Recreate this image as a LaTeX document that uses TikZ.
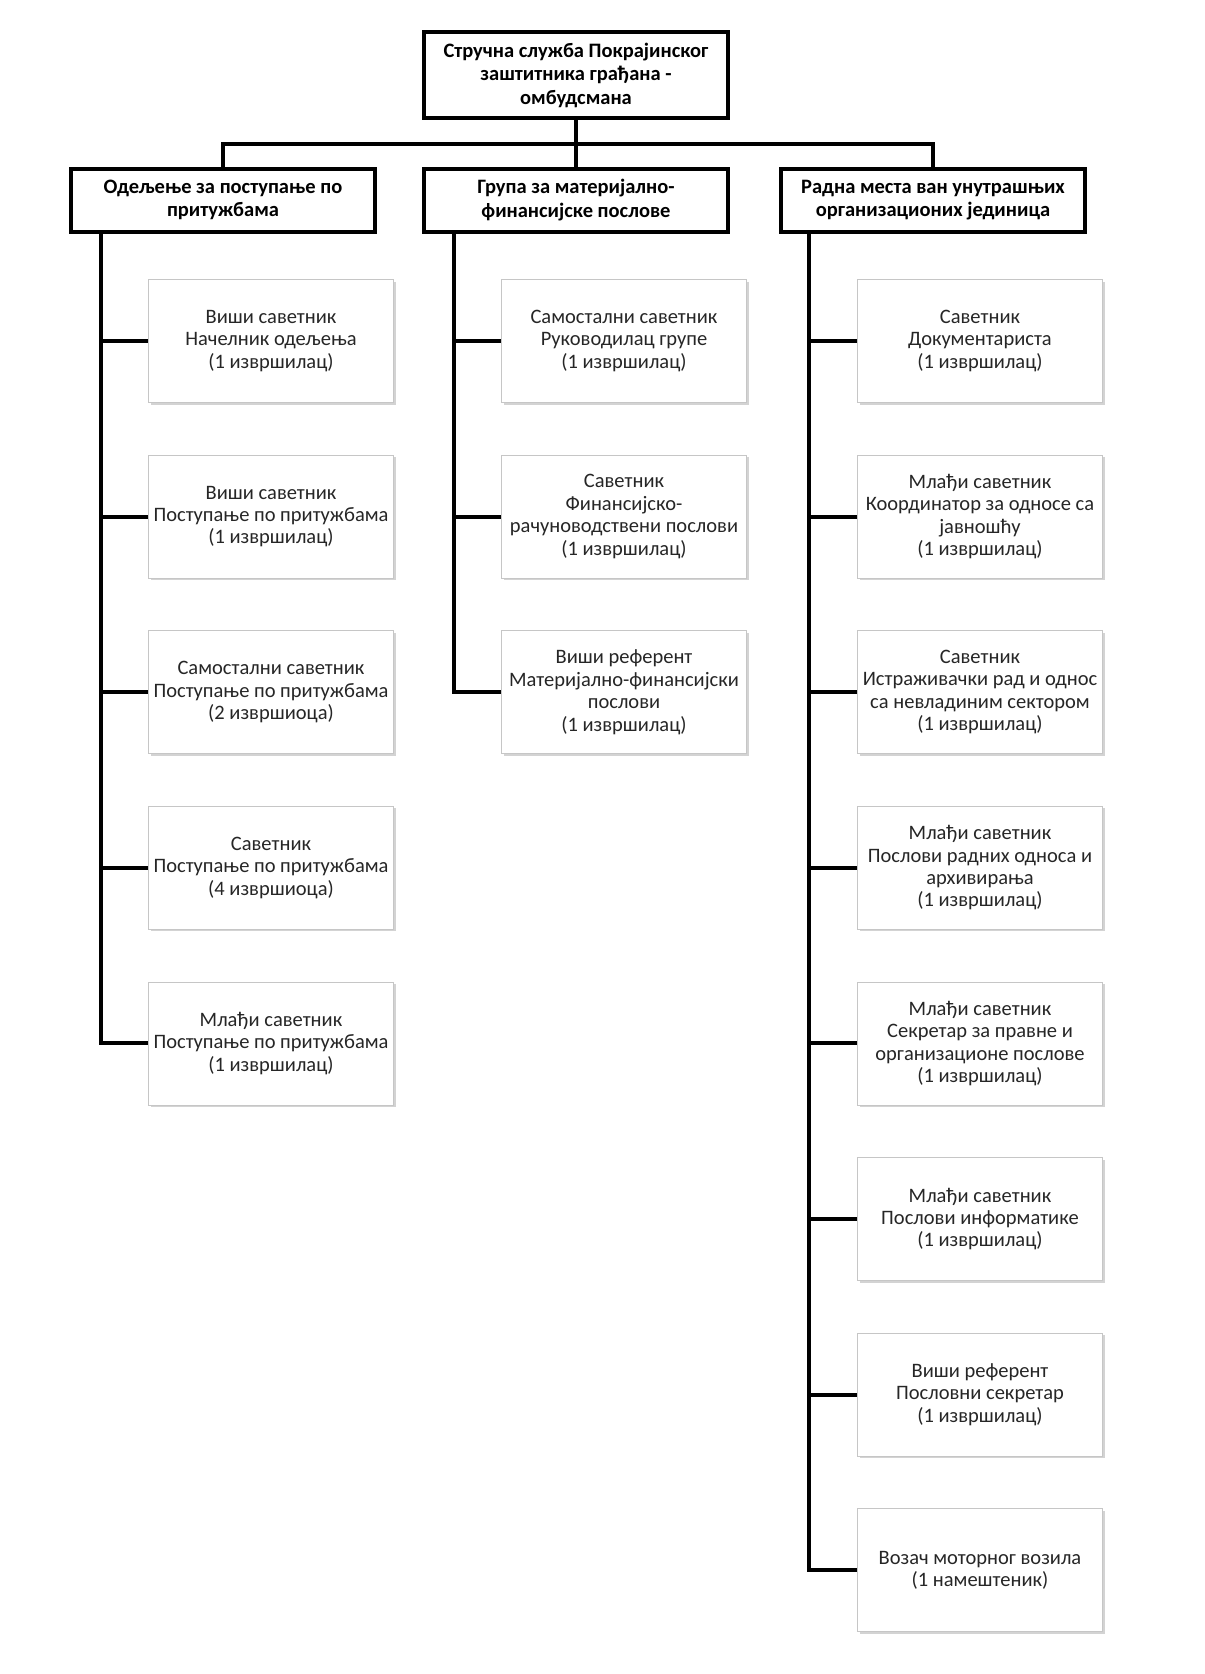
\documentclass[tikz,border=0pt]{standalone}
\usepackage{fontspec}
\setmainfont{Carlito}
\usepackage{tikz}
\usetikzlibrary{positioning, shadows}

\begin{document}
\begin{tikzpicture}[
    x=1pt, y=-1pt,
    node distance=52pt,
    head/.style={rectangle, draw, line width=4pt, fill=white, align=center, minimum width=304pt, font=\fontsize{20.5}{23.5}\selectfont\bfseries},
    unit/.style={head, minimum height=63pt},
    post/.style={rectangle, draw=gray!45, line width=0.6pt, fill=white, align=center, minimum width=245pt, minimum height=123pt, text=black!85, font=\fontsize{20.5}{22.4}\selectfont, drop shadow={shadow xshift=2pt, shadow yshift=-2pt, opacity=0.35, fill=gray}},
    conn/.style={line width=4pt}
  ]
    \useasboundingbox (0,0) rectangle (1205,1674);

    \node[head, minimum height=86pt] (ombud) at (576,75) {Стручна служба Покрајинског\\заштитника грађана -\\омбудсмана};

    \node[unit] (odel) at (223,200) {Одељење за поступање по\\притужбама};
    \node[unit] (grupa) at (576,200) {Група за материјално-\\финансијске послове};
    \node[unit] (radna) at (933,200) {Радна места ван унутрашњих\\организационих јединица};

    \coordinate (bar) at (576,144);
    \draw[conn] (ombud) -- (grupa);
    \draw[conn] (odel.north) |- (bar) -| (radna.north);

    % Odeljenje
    \node[post] (od1) at (271,341) {Виши саветник\\Начелник одељења\\(1 извршилац)};
    \node[post, below=of od1] (od2) {Виши саветник\\Поступање по притужбама\\(1 извршилац)};
    \node[post, below=of od2] (od3) {Самостални саветник\\Поступање по притужбама\\(2 извршиоца)};
    \node[post, below=of od3] (od4) {Саветник\\Поступање по притужбама\\(4 извршиоца)};
    \node[post, below=of od4] (od5) {Млађи саветник\\Поступање по притужбама\\(1 извршилац)};

    % Grupa
    \node[post] (gr1) at (624,341) {Самостални саветник\\Руководилац групе\\(1 извршилац)};
    \node[post, below=of gr1] (gr2) {Саветник\\Финансијско-\\рачуноводствени послови\\(1 извршилац)};
    \node[post, below=of gr2] (gr3) {Виши референт\\Материјално-финансијски\\послови\\(1 извршилац)};

    % Radna mesta
    \node[post] (rm1) at (980,341) {Саветник\\Документариста\\(1 извршилац)};
    \node[post, below=of rm1] (rm2) {Млађи саветник\\Координатор за односе са\\јавношћу\\(1 извршилац)};
    \node[post, below=of rm2] (rm3) {Саветник\\Истраживачки рад и однос\\са невладиним сектором\\(1 извршилац)};
    \node[post, below=of rm3] (rm4) {Млађи саветник\\Послови радних односа и\\архивирања\\(1 извршилац)};
    \node[post, below=of rm4] (rm5) {Млађи саветник\\Секретар за правне и\\организационе послове\\(1 извршилац)};
    \node[post, below=of rm5] (rm6) {Млађи саветник\\Послови информатике\\(1 извршилац)};
    \node[post, below=of rm6] (rm7) {Виши референт\\Пословни секретар\\(1 извршилац)};
    \node[post, below=of rm7] (rm8) {Возач моторног возила\\(1 намештеник)};

    \coordinate (odT) at ([xshift=32pt]odel.south west);
    \coordinate (grT) at ([xshift=32pt]grupa.south west);
    \coordinate (rmT) at ([xshift=30pt]radna.south west);

    \draw[conn] (odT) |- (od5.west);
    \foreach \i in {1,...,4}
      \draw[conn] (odT |- od\i.west) -- (od\i.west);
    \draw[conn] (grT) |- (gr3.west);
    \foreach \i in {1,2}
      \draw[conn] (grT |- gr\i.west) -- (gr\i.west);
    \draw[conn] (rmT) |- (rm8.west);
    \foreach \i in {1,...,7}
      \draw[conn] (rmT |- rm\i.west) -- (rm\i.west);
  \end{tikzpicture}
\end{document}
